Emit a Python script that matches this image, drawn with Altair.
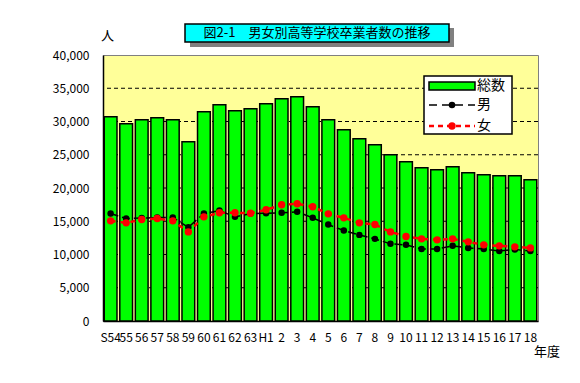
import altair as alt
import pandas as pd

years = ["S54", "55", "56", "57", "58", "59", "60", "61", "62", "63",
         "H1", "2", "3", "4", "5", "6", "7", "8", "9", "10",
         "11", "12", "13", "14", "15", "16", "17", "18"]
total = [30720, 29670, 30270, 30570, 30270, 26960, 31480, 32530, 31630, 31930,
         32680, 33430, 33730, 32230, 30270, 28770, 27410, 26510, 25000, 23950,
         23040, 22740, 23190, 22290, 21990, 21840, 21840, 21230]
male = [16160, 15410, 15480, 15560, 15560, 14100, 16160, 16610, 15660, 16160,
        16200, 16270, 16420, 15510, 14500, 13600, 12950, 12350, 11600, 11450,
        10840, 10840, 11300, 10990, 10840, 10540, 10740, 10540]
female = [15060, 14760, 15260, 15410, 15060, 13400, 15660, 16270, 16270, 16200,
          16720, 17470, 17620, 17170, 16110, 15510, 14760, 14500, 13400, 12700,
          12350, 12200, 12350, 11900, 11450, 11300, 11150, 10990]
grid_values = [5000, 10000, 15000, 20000, 25000, 30000, 35000]
y_ticks = [0, 5000, 10000, 15000, 20000, 25000, 30000, 35000, 40000]

title_text = "図2-1　男女別高等学校卒業者数の推移"
legend_labels = ["総数", "男", "女"]

JP = "Noto Sans CJK JP"

df = pd.DataFrame({"year": years, "total": total, "male": male, "female": female})
grid_df = pd.DataFrame({"v": grid_values})

x_axis = alt.Axis(title=None, labelAngle=0, labelFont=JP, labelFontSize=12,
                  labelColor="black", ticks=False, domainColor="black",
                  domainWidth=1.5, labelPadding=11, labelOverlap=False)
y_axis = alt.Axis(title=None, values=y_ticks, format=",.0f", labelFont=JP, labelFontSize=12,
                  labelColor="black", ticks=False, grid=False, domainColor="black",
                  domainWidth=1.5, labelPadding=14, labelOverlap=False, labelFlush=False)
xscale = alt.Scale(paddingInner=0.18, paddingOuter=0.08)
yscale = alt.Scale(domain=[0, 40000], nice=False)

def xe():
    return alt.X("year:N", sort=years, title=None, scale=xscale, axis=x_axis)

def ye(field):
    return alt.Y(field, scale=yscale, title=None, axis=y_axis)

base = alt.Chart(df)
grid = alt.Chart(grid_df).mark_rule(color="black", strokeDash=[4, 3], strokeWidth=1).encode(
    y=ye("v:Q"))

bars = base.mark_bar(color="#00FF00", stroke="black", strokeWidth=1.5).encode(
    x=xe(), y=ye("total:Q"))

male_line = base.mark_line(color="black", strokeWidth=1.5, strokeDash=[8, 4]).encode(
    x=xe(), y=ye("male:Q"))
female_line = base.mark_line(color="#FF0000", strokeWidth=2.5, strokeDash=[5, 5]).encode(
    x=xe(), y=ye("female:Q"))
male_pts = base.mark_circle(color="black", size=42, opacity=1).encode(
    x=xe(), y=ye("male:Q"))
female_pts = base.mark_circle(color="#FF0000", size=55, opacity=1).encode(
    x=xe(), y=ye("female:Q"))

one = pd.DataFrame({"k": [0]})
deco = alt.Chart(one)

# title box with shadow
shadow = deco.mark_rect(color="#808080").encode(
    x=alt.value(87), x2=alt.value(351), y=alt.value(-27), y2=alt.value(-8))
tbox = deco.mark_rect(fill="#00FFFF", stroke="black", strokeWidth=1.5).encode(
    x=alt.value(82), x2=alt.value(346), y=alt.value(-31), y2=alt.value(-13))
ttext = deco.mark_text(text=title_text, font=JP, fontSize=13, color="black",
                       align="center", baseline="middle").encode(
    x=alt.value(214), y=alt.value(-22))

unit = deco.mark_text(text="人", font=JP, fontSize=13, color="black",
                      align="left", baseline="middle").encode(
    x=alt.value(-2), y=alt.value(-19))
xunit = deco.mark_text(text="年度", font=JP, fontSize=13, color="black",
                       align="left", baseline="middle").encode(
    x=alt.value(431), y=alt.value(297))

# legend
lbox = deco.mark_rect(fill="white", stroke="black", strokeWidth=1.5).encode(
    x=alt.value(321), x2=alt.value(409), y=alt.value(21), y2=alt.value(79))
lg_bar = deco.mark_rect(fill="#00FF00", stroke="black", strokeWidth=1.5).encode(
    x=alt.value(326), x2=alt.value(372), y=alt.value(27), y2=alt.value(35))
lg_male = deco.mark_rule(color="black", strokeWidth=1.5, strokeDash=[8, 5]).encode(
    x=alt.value(326), x2=alt.value(372), y=alt.value(50))
lg_female = deco.mark_rule(color="#FF0000", strokeWidth=2.5, strokeDash=[5, 4]).encode(
    x=alt.value(326), x2=alt.value(372), y=alt.value(71))
lg_mdot = deco.mark_circle(color="black", size=42, opacity=1).encode(
    x=alt.value(349), y=alt.value(50))
lg_fdot = deco.mark_circle(color="#FF0000", size=55, opacity=1).encode(
    x=alt.value(349), y=alt.value(71))
lg_t1 = deco.mark_text(text=legend_labels[0], font=JP, fontSize=14, color="black",
                       align="left", baseline="middle").encode(x=alt.value(374), y=alt.value(31))
lg_t2 = deco.mark_text(text=legend_labels[1], font=JP, fontSize=14, color="black",
                       align="left", baseline="middle").encode(x=alt.value(374), y=alt.value(50))
lg_t3 = deco.mark_text(text=legend_labels[2], font=JP, fontSize=14, color="black",
                       align="left", baseline="middle").encode(x=alt.value(374), y=alt.value(71))

chart = alt.layer(
    grid, bars, male_line, female_line, male_pts, female_pts,
    shadow, tbox, ttext, unit, xunit,
    lbox, lg_bar, lg_male, lg_female, lg_mdot, lg_fdot, lg_t1, lg_t2, lg_t3
).properties(
    width=435, height=266,
    autosize=alt.AutoSizeParams(type="none"),
    padding={"left": 95, "top": 47, "right": 34, "bottom": 54},
    background="white"
).configure_view(
    fill="#FFFF99", stroke="#808080", strokeWidth=1
)

chart.save("out.html", embed_options={"renderer": "svg", "actions": False})
